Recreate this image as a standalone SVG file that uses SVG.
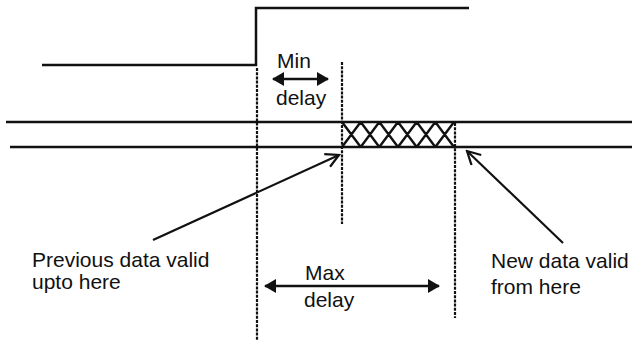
<svg xmlns="http://www.w3.org/2000/svg" width="636" height="342" viewBox="0 0 636 342">
<style>
  .ln{stroke:#111;stroke-width:2.5;fill:none}
  .dash{stroke:#111;stroke-width:2.2;fill:none;stroke-dasharray:3 1.2}
  .hatch{stroke:#111;stroke-width:2.4;fill:none}
  .ptr{stroke:#111;stroke-width:2.2;fill:none}
  .dim{stroke:#111;stroke-width:2.5;fill:none}
  text{font-family:"Liberation Sans",Arial,sans-serif;font-size:21px;fill:#111}
</style>
<defs>
  <marker id="open" viewBox="0 0 16 16" refX="14" refY="8" markerWidth="16" markerHeight="16" markerUnits="userSpaceOnUse" orient="auto">
    <path d="M1,1 L14,8 L1,15" stroke="#111" stroke-width="2.2" fill="none"/>
  </marker>
  <marker id="solid" viewBox="0 0 12 14" refX="11" refY="7" markerWidth="12" markerHeight="14" markerUnits="userSpaceOnUse" orient="auto-start-reverse">
    <path d="M0,0 L12,7 L0,14 Z" fill="#111"/>
  </marker>
</defs>
<g id="clock">
  <polyline class="ln" points="42,65 256,65 256,8 469,8"/>
</g>
<g id="data-bus">
  <line class="ln" x1="6" y1="122" x2="632" y2="122"/>
  <line class="ln" x1="10" y1="147" x2="632" y2="147"/>
  <path class="hatch" d="M342,122 L360.7,147 M342,147 L360.7,122 M360.7,122 L379.3,147 M360.7,147 L379.3,122 M379.3,122 L398,147 M379.3,147 L398,122 M398,122 L416.7,147 M398,147 L416.7,122 M416.7,122 L435.3,147 M416.7,147 L435.3,122 M435.3,122 L454,147 M435.3,147 L454,122"/>
</g>
<g id="guides">
  <line class="dash" x1="257" y1="68" x2="257" y2="340"/>
  <line class="dash" x1="342" y1="62" x2="342" y2="224"/>
  <line class="dash" x1="455" y1="123" x2="455" y2="318"/>
</g>
<g id="min-delay">
  <line class="dim" x1="273" y1="79" x2="328" y2="79" marker-start="url(#solid)" marker-end="url(#solid)"/>
  <text x="277" y="68">Min</text>
  <text x="276" y="105">delay</text>
</g>
<g id="max-delay">
  <line class="dim" x1="265" y1="286" x2="439" y2="286" marker-start="url(#solid)" marker-end="url(#solid)"/>
  <text x="305" y="280">Max</text>
  <text x="304" y="307">delay</text>
</g>
<g id="connectors">
  <line class="ptr" x1="153" y1="240" x2="339" y2="155" marker-end="url(#open)"/>
  <line class="ptr" x1="563" y1="243" x2="467" y2="151" marker-end="url(#open)"/>
</g>
<g id="label-previous">
  <text x="32" y="267">Previous data valid</text>
  <text x="32" y="289">upto here</text>
</g>
<g id="label-new">
  <text x="491" y="268">New data valid</text>
  <text x="491" y="294">from here</text>
</g>
</svg>
